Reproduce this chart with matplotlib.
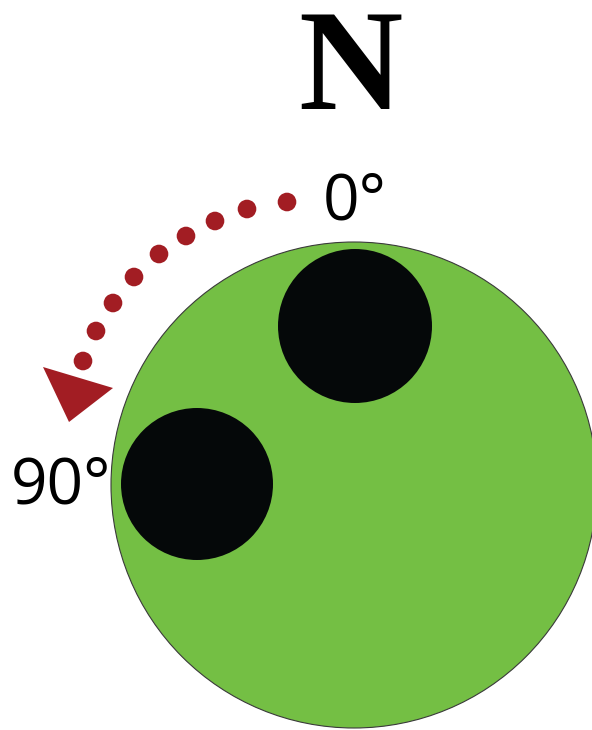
import matplotlib.pyplot as plt
from matplotlib.patches import Circle, Polygon

# Diagram data (pixel coordinates, y going down)
big_circle = (354, 485, 243)              # cx, cy, r
holes_x = [355, 197]
holes_y = [326, 484]
holes_r = [77, 76]
dots_x = [287, 247, 215, 186, 159, 134, 113, 96, 83]
dots_y = [202, 209, 221, 236, 254, 277, 303, 331, 361]
arrow_head = [(43, 367), (113, 388), (69, 422)]
labels = ['N', '0°', '90°']

fig = plt.figure(figsize=(5.92, 7.30), dpi=100)
ax = fig.add_axes([0, 0, 1, 1])
ax.set_xlim(0, 592)
ax.set_ylim(730, 0)
ax.set_aspect('equal')
ax.axis('off')

# Green disc
cx, cy, r = big_circle
ax.add_patch(Circle((cx, cy), r, facecolor='#74BF44', edgecolor='#3a3a3a', linewidth=0.8))

# Black holes
for x, y, rr in zip(holes_x, holes_y, holes_r):
    ax.add_patch(Circle((x, y), rr, facecolor='#050809', edgecolor='none'))

# Dotted rotation arrow
ax.scatter(dots_x, dots_y, s=180, color='#A21D23', edgecolors='none', zorder=3)
ax.add_patch(Polygon(arrow_head, closed=True, facecolor='#A21D23', edgecolor='none', zorder=3))

# Texts
ax.text(350, 109, labels[0], fontsize=104, fontweight='bold', family='Liberation Serif',
        ha='center', va='baseline', color='black')
ax.text(355, 219, labels[1], fontsize=46, family='Open Sans',
        ha='center', va='baseline', color='black')
ax.text(61, 503, labels[2], fontsize=46, family='Open Sans',
        ha='center', va='baseline', color='black')

plt.savefig('out.png', dpi=100)
